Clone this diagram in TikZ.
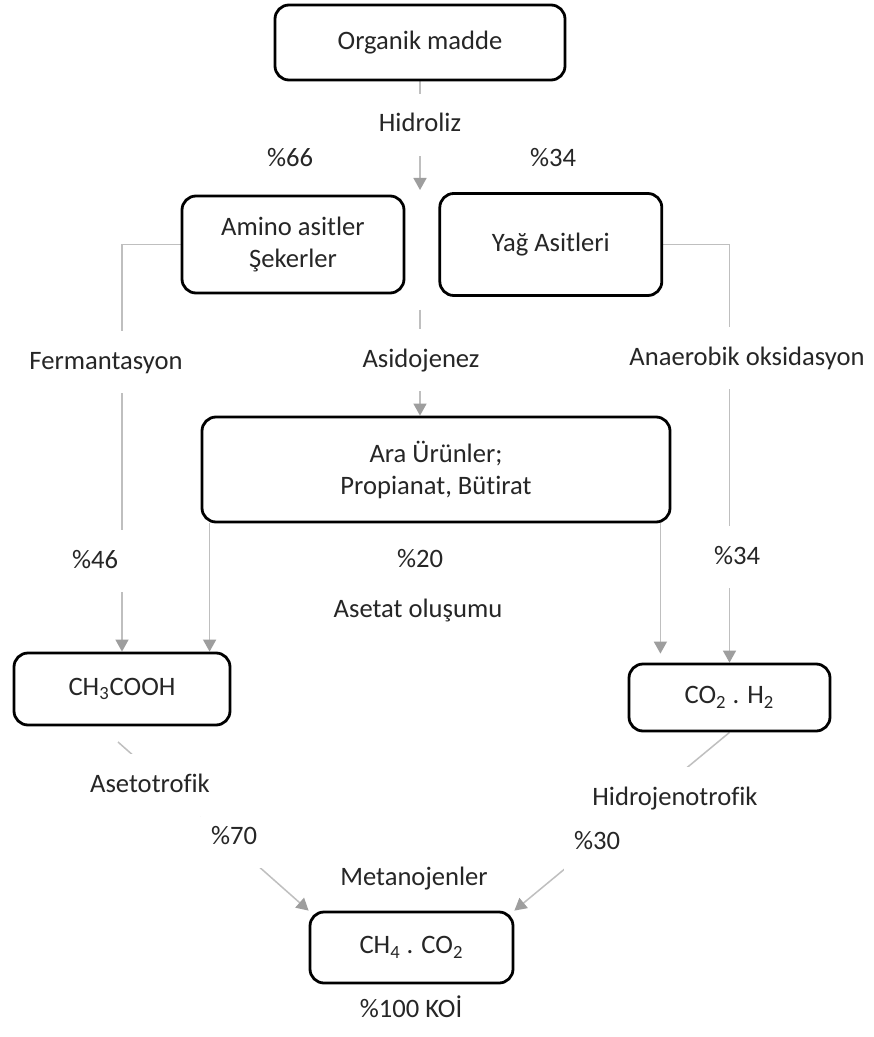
\documentclass[tikz,border=0pt]{standalone}
\usepackage{fontspec}
\setmainfont{Carlito}[Ligatures=NoCommon]
\usetikzlibrary{arrows.meta}
\usetikzlibrary{positioning}
\usetikzlibrary{backgrounds}

\begin{document}
\begin{tikzpicture}[x=0.5pt,y=-0.5pt,>={Triangle[width=6.5pt,length=6pt,color=black!38]},
					  font=\fontsize{13.3}{16}\selectfont,
					  box node/.style={draw=black,line width=1.4pt,rounded corners=7pt,align=center,text=black!85},
					  label node/.style={fill=white,text=black!85,inner xsep=5pt,inner ysep=9pt,text height=10pt,text depth=3pt},
					  flow/.style={->,draw=black!25,line width=0.75pt}]

					  \useasboundingbox (0,0) rectangle (873,1037);

					  \node[box node,minimum width=145pt,minimum height=37.5pt] (organik) at (420,42.5) {Organik madde};
					  \node[box node,minimum width=111pt,minimum height=48.5pt] (amino) at (293,244.5) {Amino asitler\\Şekerler};
					  \node[box node,minimum width=111pt,minimum height=51pt] (yag) [right=16.5pt of amino] {Yağ Asitleri};
					  \node[box node,minimum width=234pt,minimum height=52.5pt] (ara) at (436,469.5) {Ara Ürünler;\\Propianat, Bütirat};
					  \node[box node,minimum width=108pt,minimum height=36pt] (ch3cooh) at (122,689) {CH\textsubscript{3}COOH};
					  \node[box node,minimum width=100.5pt,minimum height=33.5pt] (co2h2) at (729.5,697.5) {CO\textsubscript{2} . H\textsubscript{2}};
					  \node[box node,minimum width=101.5pt,minimum height=35.5pt] (ch4co2) at (411.5,947.5) {CH\textsubscript{4} . CO\textsubscript{2}};

					  \coordinate (split) at (420,190);
					  \coordinate (asid) at (420,310);
					  \coordinate (asetstart) at (118,742);

					  \begin{scope}[on background layer]
					    \fill[white] (0,0) rectangle (873,1037);
					    \draw[flow] (organik) -- (split);
					    \draw[flow] (asid) -- (asid |- ara.north);
					    \draw[flow] (amino.west) -| (ch3cooh.north);
					    \draw[flow] (yag.east) -| (co2h2.north);
					    \draw[flow] ([xshift=4.5pt]ara.south west) -- ([xshift=4.5pt]ara.south west |- ch3cooh.north);
					    \draw[flow,shorten >=4.5pt] ([xshift=-5.5pt]ara.south east) -- ([xshift=-5.5pt]ara.south east |- co2h2.north);
					    \draw[flow] (asetstart) -- (ch4co2.north west);
					    \draw[flow] (co2h2.south) -- (ch4co2.north east);
					  \end{scope}

					  \node[label node] (hidroliz) at (420,125) {Hidroliz};
					  \node[label node] (p66) at (290,160) {\%66};
					  \node[label node] (p34a) at (553,160) {\%34};
					  \node[label node] (ferm) at (106,362) {Fermantasyon};
					  \node[label node] (asidojenez) at (421,360) {Asidojenez};
					  \node[label node] (anaerobik) at (747,358) {Anaerobik oksidasyon};
					  \node[label node] (p46) at (95,561) {\%46};
					  \node[label node] (p20) at (420,560) {\%20};
					  \node[label node] (asetat) at (418,610) {Asetat oluşumu};
					  \node[label node] (p34b) at (737,557) {\%34};
					  \node[label node] (asetotrofik) at (150,785) {Asetotrofik};
					  \node[label node] (hidrojeno) at (675,798) {Hidrojenotrofik};
					  \node[label node] (p70) at (234,837) {\%70};
					  \node[label node] (p30) at (597,842) {\%30};
					  \node[label node] (metan) at (414,878) {Metanojenler};
					  \node[label node,inner ysep=2pt] (koi) at (411,1010) {\%100 KOİ};
\end{tikzpicture}
\end{document}
